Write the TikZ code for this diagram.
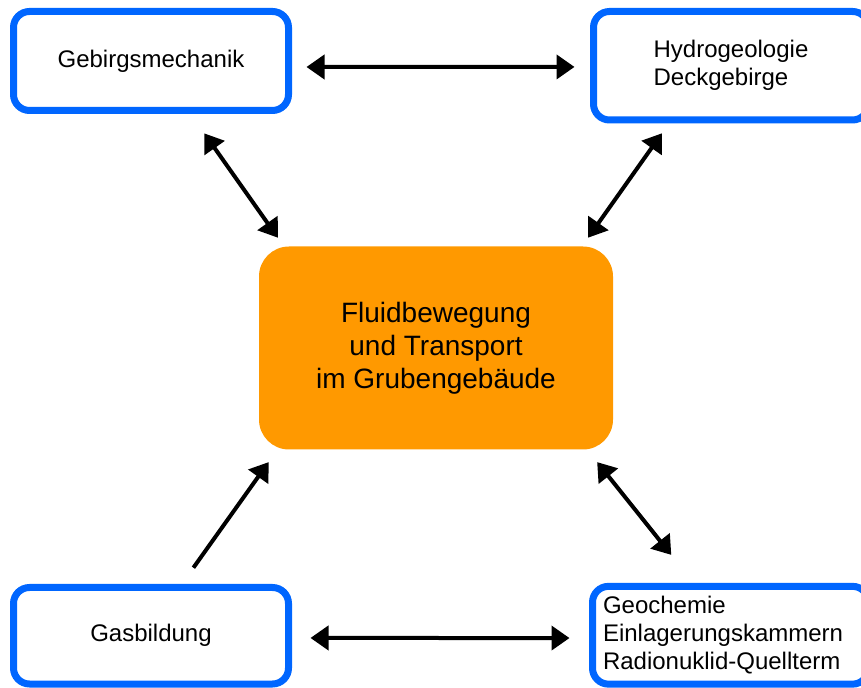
\documentclass[tikz,border=0pt]{standalone}
\usepackage{fontspec}
\setmainfont{Liberation Sans}
\usetikzlibrary{arrows.meta}
\definecolor{boxblue}{RGB}{0,102,255}
\definecolor{fluidorange}{RGB}{255,153,0}

\begin{document}
\begin{tikzpicture}[x=0.5pt,y=-0.5pt,
    topic/.style={draw=boxblue, line width=3.5pt, rounded corners=8pt, fill=white,
      font=\fontsize{12}{14}\selectfont},
    core/.style={fill=fluidorange, rounded corners=15pt, minimum width=177pt,
      minimum height=101.5pt, align=center, font=\fontsize{14}{16.5}\selectfont},
    link/.style={line width=2pt, {Triangle[length=9pt,width=12pt]}-{Triangle[length=9pt,width=12pt]}},
    feed/.style={line width=2pt, -{Triangle[length=9pt,width=12pt]}}
  ]
  \useasboundingbox (0,0) rectangle (861,688);

  % Central box
  \node[core] (fluid) at (436,348) {Fluidbewegung\\und Transport\\im Grubengebäude};

  % Outer boxes
  \node[topic, minimum width=137.5pt, minimum height=49.5pt] (mech) at (151,61) {Gebirgsmechanik};
  \node[topic, minimum width=137.5pt, minimum height=54.25pt, align=left] (hydro) at (731,65.75)
    {Hydrogeologie\\Deckgebirge};
  \node[topic, minimum width=137.5pt, minimum height=48.25pt] (gas) at (151,635.75) {Gasbildung};
  \node[topic, minimum width=138pt, minimum height=48.9pt, text width=127.5pt, align=left] (chem)
    at (730.5,635.25) {Geochemie\\Einlagerungskammern\\Radionuklid-Quellterm};

  % Arrows
  \draw[link, shorten <=7.25pt, shorten >=7.75pt] ([yshift=-3pt]mech.east) -- ([yshift=-0.6pt]hydro.west);
  \draw[link, shorten <=9.25pt, shorten >=9.75pt] ([yshift=-1.1pt]gas.east) -- ([yshift=-1.4pt]chem.west);
  \draw[link, shorten <=11.85pt, shorten >=3.6pt] ([xshift=19.8pt]mech.south) -- ([xshift=-77pt,yshift=1.25pt]fluid.north);
  \draw[link, shorten <=6pt, shorten >=3.6pt] ([xshift=-31.05pt]hydro.south) -- ([xshift=73.95pt,yshift=1.25pt]fluid.north);
  \draw[feed, shorten <=10pt, shorten >=7.2pt] ([xshift=15.4pt]gas.north) -- ([xshift=-79.5pt,yshift=-0.25pt]fluid.south);
  \draw[link, shorten <=7.5pt, shorten >=17.9pt] ([xshift=75.9pt,yshift=-0.25pt]fluid.south) -- ([xshift=-18.45pt]chem.north);
\end{tikzpicture}
\end{document}
